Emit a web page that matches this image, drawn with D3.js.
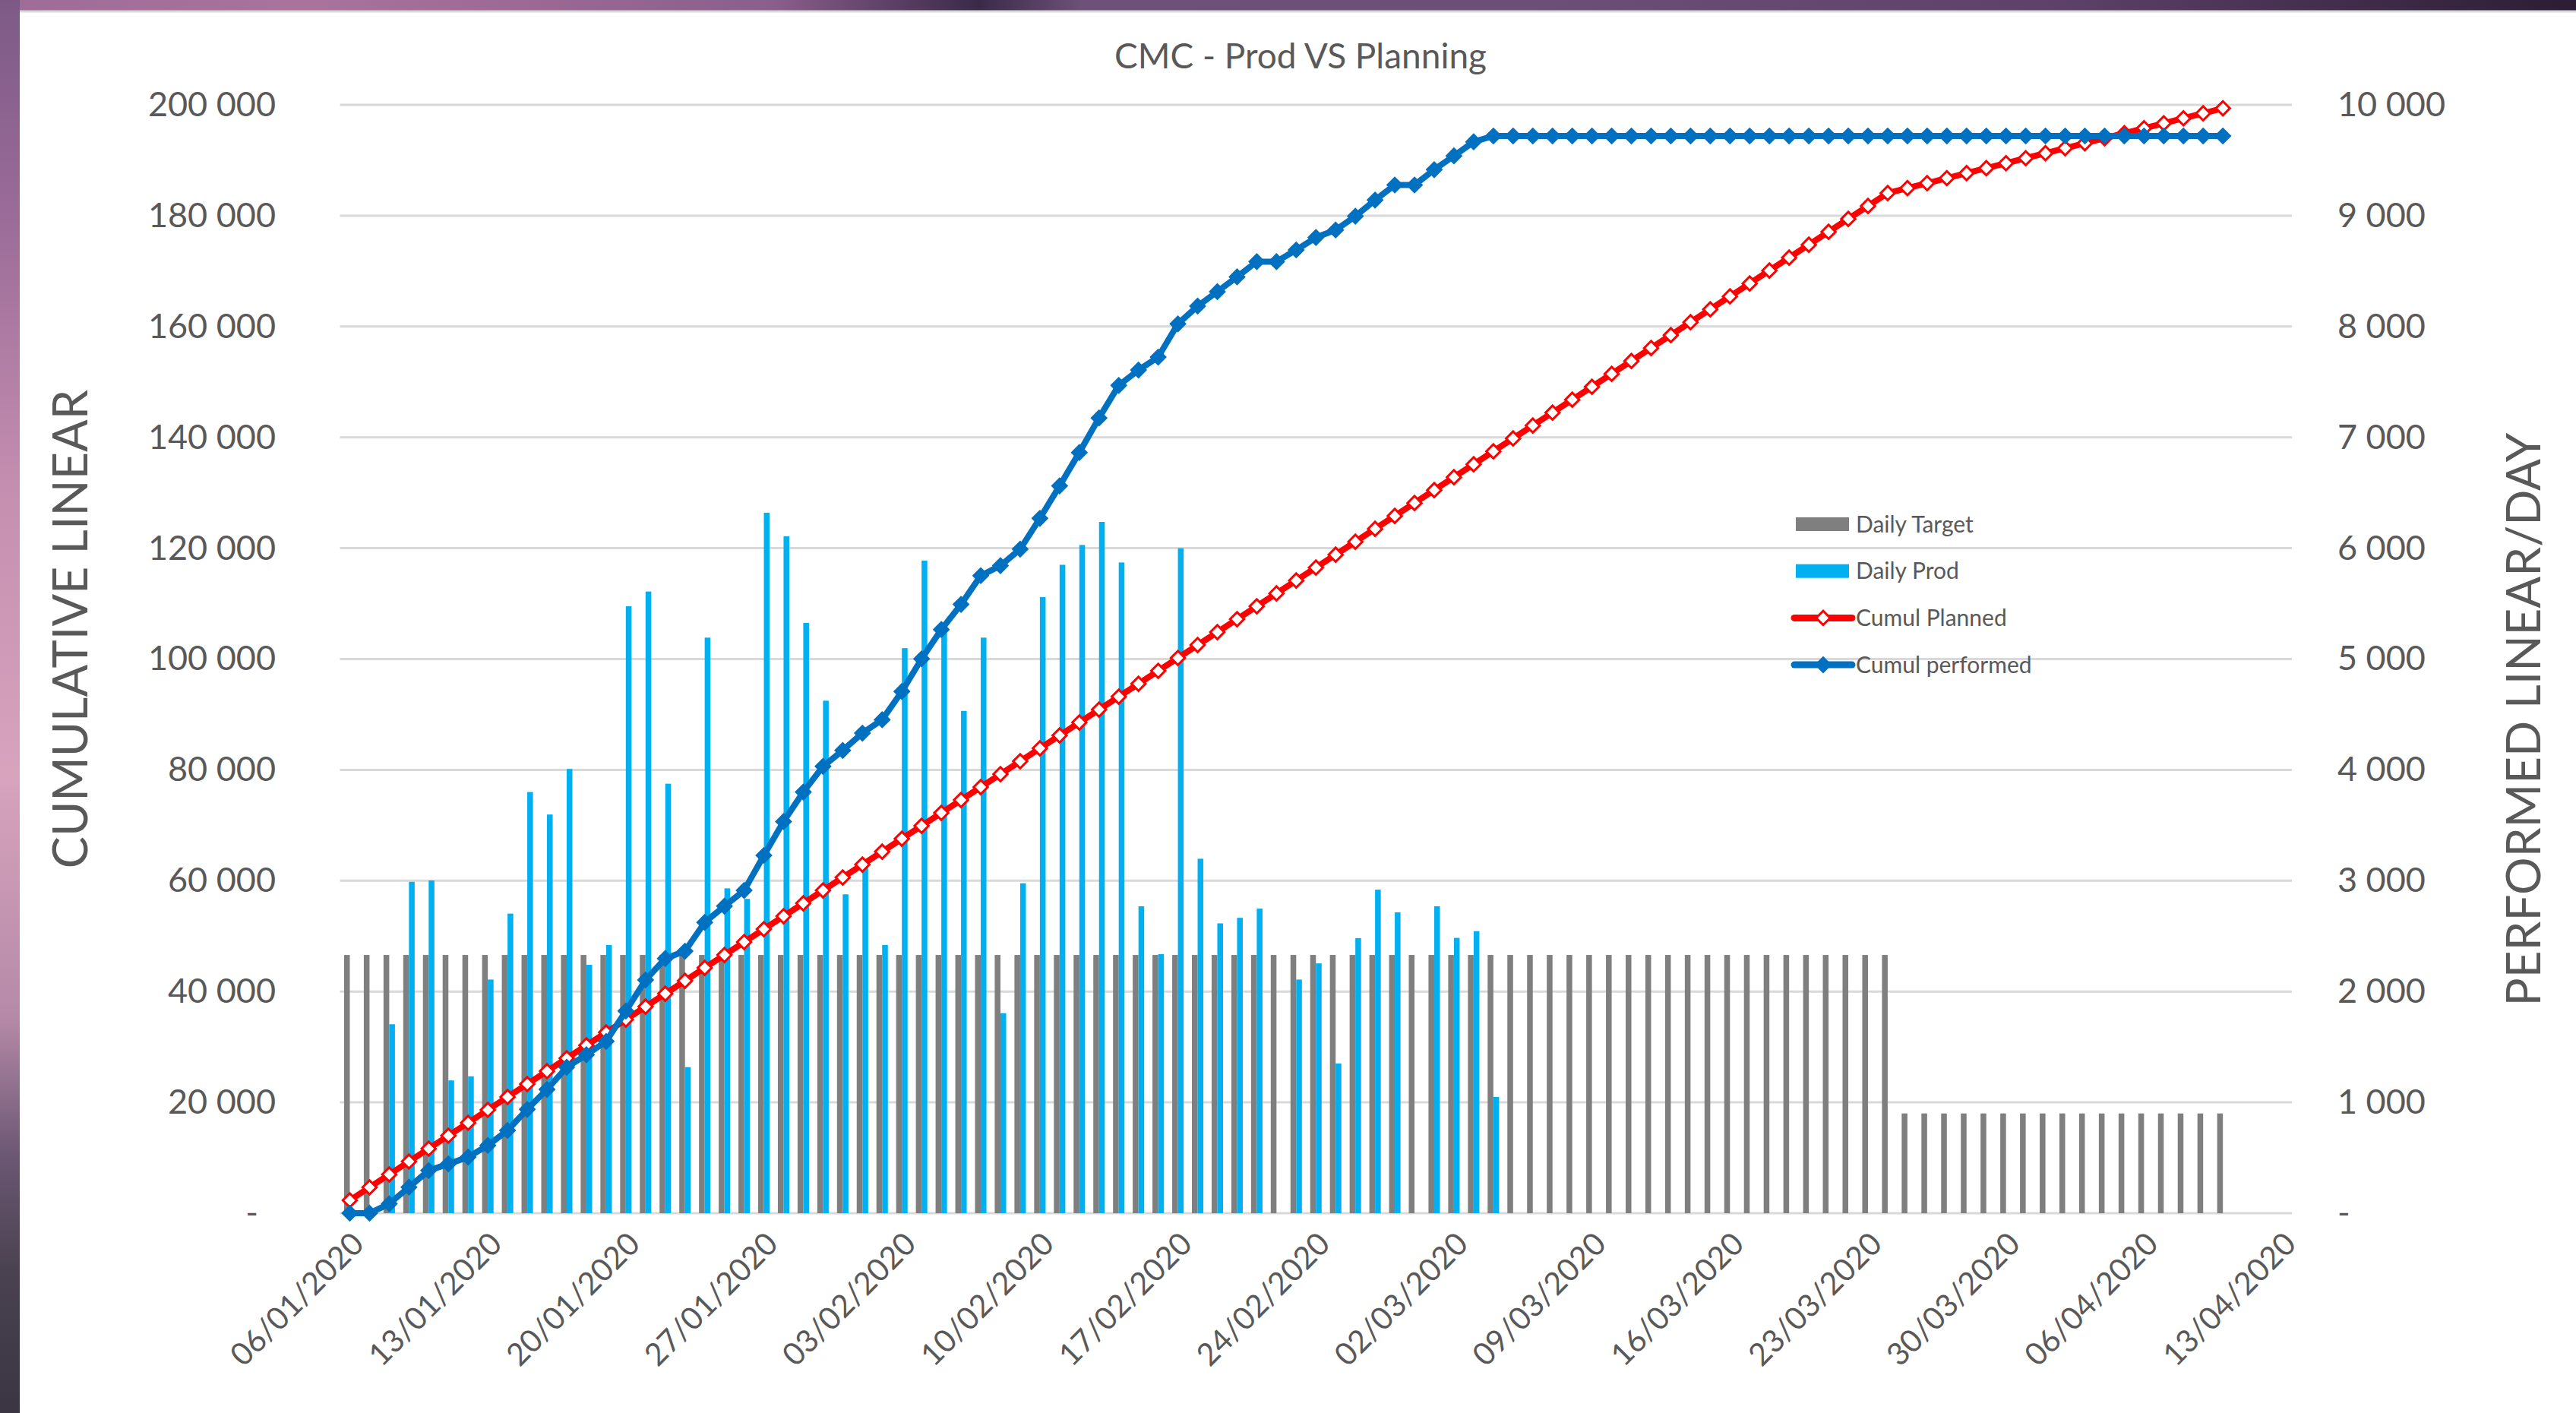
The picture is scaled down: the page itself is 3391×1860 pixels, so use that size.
<!DOCTYPE html>
<html>
<head>
<meta charset="utf-8">
<title>CMC - Prod VS Planning</title>
<script src="https://cdn.jsdelivr.net/npm/d3@7"></script>
<style>
  html, body { margin: 0; padding: 0; background: #ffffff; }
  svg { display: block; }
  text { font-family: Lato, "Open Sans", "Noto Sans", sans-serif; fill: #595959; }
</style>
</head>
<body>
<svg id="chart" width="3391" height="1860"></svg>
<script>
// ---- Data -------------------------------------------------------------
// Axis runs from 06/01/2020 to 13/04/2020 (one category per day).
const axisStart = new Date(2020, 0, 6);
const axisEnd = new Date(2020, 3, 14);

// Daily target (linear/day), 06/01 .. 10/04
const dailyTarget = [
  2330, 2330, 2330, 2330, 2330, 2330, 2330, 2330, 2330, 2330,
  2330, 2330, 2330, 2330, 2330, 2330, 2330, 2330, 2330, 2330,
  2330, 2330, 2330, 2330, 2330, 2330, 2330, 2330, 2330, 2330,
  2330, 2330, 2330, 2330, 2330, 2330, 2330, 2330, 2330, 2330,
  2330, 2330, 2330, 2330, 2330, 2330, 2330, 2330, 2330, 2330,
  2330, 2330, 2330, 2330, 2330, 2330, 2330, 2330, 2330, 2330,
  2330, 2330, 2330, 2330, 2330, 2330, 2330, 2330, 2330, 2330,
  2330, 2330, 2330, 2330, 2330, 2330, 2330, 2330, 2330,
  900, 900, 900, 900, 900, 900, 900, 900, 900,
  900, 900, 900, 900, 900, 900, 900, 900
];

// Daily production (linear/day), 06/01 .. 05/03
const dailyProd = [
  0, 0, 1705, 2990, 3002, 1198, 1235, 2108, 2703, 3800,
  3597, 4008, 2241, 2420, 5476, 5609, 3875, 1318, 5193, 2931,
  2836, 6320, 6108, 5326, 4624, 2877, 3127, 2420, 5098, 5888,
  5289, 4532, 5193, 1805, 2977, 5559, 5850, 6029, 6237, 5871,
  2769, 2337, 6000, 3198, 2615, 2665, 2748, 0, 2108, 2254,
  1351, 2482, 2919, 2715, 0, 2769, 2484, 2545, 1049
];

// Cumulative planned linear, 06/01 .. 10/04
const cumulPlanned = [
  2330, 4660, 6990, 9320, 11650, 13980, 16310, 18640, 20970, 23300,
  25630, 27960, 30290, 32620, 34950, 37280, 39610, 41940, 44270, 46600,
  48930, 51260, 53590, 55920, 58250, 60580, 62910, 65240, 67570, 69900,
  72230, 74560, 76890, 79220, 81550, 83880, 86210, 88540, 90870, 93200,
  95530, 97860, 100190, 102520, 104850, 107180, 109510, 111840, 114170, 116500,
  118830, 121160, 123490, 125820, 128150, 130480, 132810, 135140, 137470, 139800,
  142130, 144460, 146790, 149120, 151450, 153780, 156110, 158440, 160770, 163100,
  165430, 167760, 170090, 172420, 174750, 177080, 179410, 181740, 184070,
  184970, 185870, 186770, 187670, 188570, 189470, 190370, 191270, 192170,
  193070, 193970, 194870, 195770, 196670, 197570, 198470, 199370
];

// Cumulative performed linear, 06/01 .. 10/04
const cumulPerformed = [
  0, 0, 1705, 4695, 7697, 8895, 10130, 12238, 14941, 18741,
  22338, 26346, 28587, 31007, 36483, 42092, 45967, 47285, 52478, 55409,
  58245, 64565, 70673, 75999, 80623, 83500, 86627, 89047, 94145, 100033,
  105322, 109854, 115047, 116852, 119829, 125388, 131238, 137267, 143504, 149375,
  152144, 154481, 160481, 163679, 166294, 168959, 171707, 171707, 173815, 176069,
  177420, 179902, 182821, 185536, 185536, 188305, 190789, 193334, 194383, 194383,
  194383, 194383, 194383, 194383, 194383, 194383, 194383, 194383, 194383, 194383,
  194383, 194383, 194383, 194383, 194383, 194383, 194383, 194383, 194383, 194383,
  194383, 194383, 194383, 194383, 194383, 194383, 194383, 194383, 194383, 194383,
  194383, 194383, 194383, 194383, 194383, 194383
];

const xTickLabels = [
  "06/01/2020", "13/01/2020", "20/01/2020", "27/01/2020", "03/02/2020",
  "10/02/2020", "17/02/2020", "24/02/2020", "02/03/2020", "09/03/2020",
  "16/03/2020", "23/03/2020", "30/03/2020", "06/04/2020", "13/04/2020"
];
const leftTicks = [0, 20000, 40000, 60000, 80000, 100000, 120000, 140000, 160000, 180000, 200000];
const rightTicks = [0, 1000, 2000, 3000, 4000, 5000, 6000, 7000, 8000, 9000, 10000];

const seriesNames = ["Daily Target", "Daily Prod", "Cumul Planned", "Cumul performed"];
const colors = {
  target: "#7f7f7f",
  prod: "#00b0f0",
  planned: "#ff0000",
  performed: "#0070c0",
  grid: "#d9d9d9",
  text: "#595959"
};

// ---- Layout -----------------------------------------------------------
const W = 3391, H = 1860;
const plot = { left: 447.5, right: 3017, top: 138, bottom: 1597 };

const svg = d3.select("#chart");

// Backdrop behind the chart panel (top and left margins of the screen)
const defs = svg.append("defs");
const gTop = defs.append("linearGradient").attr("id", "bgTop").attr("x1", 0).attr("x2", 1).attr("y1", 0).attr("y2", 0);
[["0%", "#9c6d97"], ["12%", "#a9739c"], ["30%", "#8a5f8c"], ["38%", "#3a2a48"], ["42%", "#6d5178"],
 ["60%", "#6b4f77"], ["80%", "#5d4169"], ["100%", "#2b1d33"]]
  .forEach(([o, c]) => gTop.append("stop").attr("offset", o).attr("stop-color", c));
const gLeft = defs.append("linearGradient").attr("id", "bgLeft").attr("x1", 0).attr("x2", 0).attr("y1", 0).attr("y2", 1);
[["0%", "#7d5a86"], ["15%", "#9a6b98"], ["35%", "#c58fb0"], ["55%", "#d7a3bd"], ["72%", "#b58aa8"],
 ["82%", "#6a5672"], ["90%", "#4a4250"], ["100%", "#3b3442"]]
  .forEach(([o, c]) => gLeft.append("stop").attr("offset", o).attr("stop-color", c));

svg.append("rect").attr("x", 0).attr("y", 0).attr("width", W).attr("height", 15).attr("fill", "url(#bgTop)");
svg.append("rect").attr("x", 0).attr("y", 0).attr("width", 26).attr("height", H).attr("fill", "url(#bgLeft)");

// White chart panel
svg.append("rect").attr("x", 26).attr("y", 14).attr("width", W - 26).attr("height", H - 14)
  .attr("fill", "#ffffff");
svg.append("line").attr("x1", 26).attr("x2", W).attr("y1", 15).attr("y2", 15)
  .attr("stroke", colors.grid).attr("stroke-width", 3);

// ---- Scales -----------------------------------------------------------
const days = d3.timeDay.range(axisStart, axisEnd);      // 99 categories
const fmtDay = d3.timeFormat("%d/%m/%Y");

const x = d3.scaleBand()
  .domain(days.map(fmtDay))
  .range([plot.left, plot.right])
  .paddingInner(0.42)
  .paddingOuter(0.21);

const sub = d3.scaleBand()
  .domain(["target", "prod"])
  .range([0, x.bandwidth()])
  .padding(0);

const yLeft = d3.scaleLinear().domain([0, 200000]).range([plot.bottom, plot.top]);
const yRight = d3.scaleLinear().domain([0, 10000]).range([plot.bottom, plot.top]);

const cx = i => x(fmtDay(days[i])) + x.bandwidth() / 2;

const numFmt = v => v === 0 ? "-" : d3.format(",")(v).replace(/,/g, " ");

// ---- Gridlines --------------------------------------------------------
svg.append("g")
  .selectAll("line")
  .data(leftTicks)
  .join("line")
  .attr("x1", plot.left).attr("x2", plot.right)
  .attr("y1", d => yLeft(d)).attr("y2", d => yLeft(d))
  .attr("stroke", colors.grid)
  .attr("stroke-width", 3);

// ---- Axes -------------------------------------------------------------
const axisFont = 45;

const gl = svg.append("g")
  .attr("transform", `translate(363,0)`)
  .call(d3.axisLeft(yLeft).tickValues(leftTicks).tickFormat(numFmt).tickSize(0).tickPadding(0));
gl.select(".domain").remove();
gl.selectAll("text")
  .attr("font-size", axisFont)
  .attr("fill", colors.text)
  .attr("x", d => d === 0 ? -23 : 0)
  .style("font-family", "Lato, sans-serif");

const gr = svg.append("g")
  .attr("transform", `translate(3077,0)`)
  .call(d3.axisRight(yRight).tickValues(rightTicks).tickFormat(numFmt).tickSize(0).tickPadding(0));
gr.select(".domain").remove();
gr.selectAll("text")
  .attr("font-size", axisFont)
  .attr("fill", colors.text)
  .style("font-family", "Lato, sans-serif");

const gx = svg.append("g")
  .attr("transform", `translate(0,${plot.bottom})`)
  .call(d3.axisBottom(x).tickValues(xTickLabels).tickSize(0).tickPadding(0));
gx.select(".domain").remove();
gx.selectAll("text")
  .attr("font-size", 41)
  .attr("fill", colors.text)
  .style("font-family", "Lato, sans-serif")
  .attr("text-anchor", "end")
  .attr("x", 0).attr("y", 0).attr("dy", "0.72em")
  .attr("transform", "translate(0,22) rotate(-45)");

// ---- Bars (secondary axis) -------------------------------------------
svg.append("g")
  .selectAll("rect")
  .data(dailyTarget)
  .join("rect")
  .attr("x", (d, i) => x(fmtDay(days[i])) + sub("target"))
  .attr("width", sub.bandwidth())
  .attr("y", d => yRight(d))
  .attr("height", d => yRight(0) - yRight(d))
  .attr("fill", colors.target);

svg.append("g")
  .selectAll("rect")
  .data(dailyProd)
  .join("rect")
  .attr("x", (d, i) => x(fmtDay(days[i])) + sub("prod"))
  .attr("width", sub.bandwidth())
  .attr("y", d => yRight(d))
  .attr("height", d => yRight(0) - yRight(d))
  .attr("fill", colors.prod);

// ---- Lines (primary axis) --------------------------------------------
const diamond = d3.symbol().type(d3.symbolSquare).size(170);

function drawLine(values, color, markerFill) {
  const line = d3.line().x((d, i) => cx(i)).y(d => yLeft(d));
  svg.append("path")
    .datum(values)
    .attr("d", line)
    .attr("fill", "none")
    .attr("stroke", color)
    .attr("stroke-width", 8)
    .attr("stroke-linejoin", "round")
    .attr("stroke-linecap", "round");
  svg.append("g")
    .selectAll("path")
    .data(values)
    .join("path")
    .attr("d", diamond)
    .attr("transform", (d, i) => `translate(${cx(i)},${yLeft(d)}) rotate(45)`)
    .attr("fill", markerFill)
    .attr("stroke", color)
    .attr("stroke-width", 3);
}

drawLine(cumulPlanned, colors.planned, "#ffffff");
drawLine(cumulPerformed, colors.performed, colors.performed);

// ---- Title & axis titles ---------------------------------------------
svg.append("text")
  .attr("x", 1712).attr("y", 90)
  .attr("text-anchor", "middle")
  .attr("font-size", 46)
  .text("CMC - Prod VS Planning");

svg.append("text")
  .attr("transform", "translate(93,828) rotate(-90)")
  .attr("text-anchor", "middle")
  .attr("dy", "0.35em")
  .attr("font-size", 63)
  .text("CUMULATIVE LINEAR");

svg.append("text")
  .attr("transform", "translate(3322,947) rotate(-90)")
  .attr("text-anchor", "middle")
  .attr("dy", "0.35em")
  .attr("font-size", 62)
  .text("PERFORMED LINEAR/DAY");

// ---- Legend -----------------------------------------------------------
const legend = svg.append("g").attr("transform", "translate(2362,690)");
const rowH = 61.7;
seriesNames.forEach((name, k) => {
  const g = legend.append("g").attr("transform", `translate(0,${k * rowH})`);
  if (k < 2) {
    g.append("rect").attr("x", 2).attr("y", -9).attr("width", 70).attr("height", 18)
      .attr("fill", k === 0 ? colors.target : colors.prod);
  } else {
    const c = k === 2 ? colors.planned : colors.performed;
    g.append("line").attr("x1", 0).attr("x2", 76).attr("y1", 0).attr("y2", 0)
      .attr("stroke", c).attr("stroke-width", 9).attr("stroke-linecap", "round");
    g.append("path").attr("d", diamond).attr("transform", "translate(38,0) rotate(45)")
      .attr("fill", k === 2 ? "#ffffff" : c).attr("stroke", c).attr("stroke-width", 3);
  }
  g.append("text").attr("x", 81).attr("y", 0).attr("dy", "0.35em")
    .attr("font-size", 30).text(name);
});
</script>
</body>
</html>
